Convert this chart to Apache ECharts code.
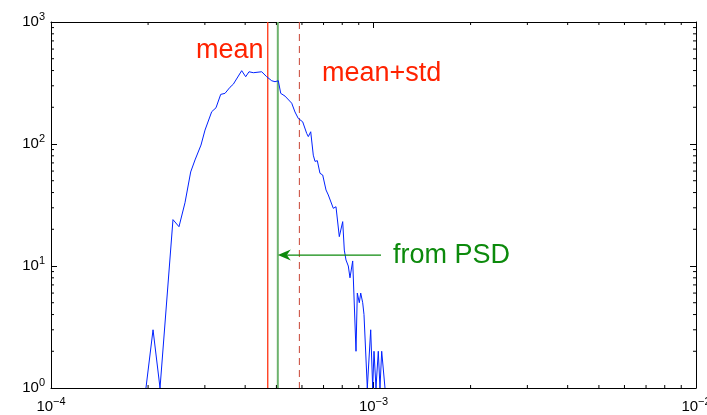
<!DOCTYPE html>
<html>
<head>
<meta charset="utf-8">
<script src="https://cdn.jsdelivr.net/npm/echarts@6/dist/echarts.min.js"></script>
<style>
html,body{margin:0;padding:0;background:#fff;}
#chart{width:707px;height:415px;}
</style>
</head>
<body>
<div id="chart"></div>
<script>
// Histogram bin positions
const xVals = [1.970e-4, 2.072e-4, 2.178e-4, 2.389e-4, 2.494e-4, 2.603e-4, 2.711e-4, 2.796e-4, 2.918e-4, 3.003e-4,
  3.150e-4, 3.248e-4, 3.359e-4, 3.463e-4, 3.590e-4, 3.675e-4, 3.720e-4, 3.902e-4, 4.015e-4, 4.111e-4,
  4.241e-4, 4.501e-4, 4.665e-4, 4.834e-4, 4.950e-4, 5.068e-4, 5.156e-4, 5.316e-4, 5.577e-4, 5.709e-4,
  5.845e-4, 6.032e-4, 6.207e-4, 6.278e-4, 6.387e-4, 6.506e-4, 6.586e-4, 6.695e-4, 6.825e-4, 6.958e-4,
  7.124e-4, 7.242e-4, 7.330e-4, 7.505e-4, 7.651e-4, 7.834e-4, 7.912e-4, 8.026e-4, 8.118e-4, 8.217e-4,
  8.353e-4, 8.455e-4, 8.558e-4, 8.620e-4, 8.826e-4, 8.908e-4, 9.036e-4, 9.127e-4, 9.258e-4, 9.344e-4,
  9.478e-4, 9.567e-4, 9.802e-4, 9.943e-4, 10.036e-4, 10.180e-4, 10.348e-4, 10.475e-4, 10.603e-4, 10.724e-4,
  10.855e-4];
// Counts per bin
const counts = [1, 3, 1, 24, 21, 33, 59, 74, 98, 130,
  184, 198, 255, 260, 292, 309, 316, 399, 356, 391,
  384, 391, 356, 330, 324, 330, 260, 247, 216, 183,
  162, 152, 122, 115, 126, 81, 72, 73, 57.5, 55.7,
  42, 38.2, 39.4, 29.7, 30.6, 17.4, 16.9, 23.1, 13.5, 11.2,
  10, 8, 8, 11, 2, 6, 5, 6, 5, 4,
  4, 1, 3, 1, 2, 1, 2, 1, 2, 2,
  1];
const meanX = 4.70e-4;
const psdX = 5.05e-4;
const meanStdX = 5.89e-4;
const arrowStartX = 1.055e-3;
const arrowY = 12.3;
const xMinorTicks = [2e-4,3e-4,4e-4,5e-4,6e-4,7e-4,8e-4,9e-4,2e-3,3e-3,4e-3,5e-3,6e-3,7e-3,8e-3,9e-3];
const yMinorTicks = [2,3,4,5,6,7,8,9,20,30,40,50,60,70,80,90,200,300,400,500,600,700,800,900];

const FONT = '"Liberation Sans", Arial, Helvetica, sans-serif';
const labelRich = {
  b: {fontSize: 15, fontFamily: FONT, color: '#000'},
  s: {fontSize: 11, fontFamily: FONT, color: '#000', padding: [0, 0, 11, 0]}
};
function powFmt(v) {
  const e = Math.round(Math.log10(v));
  return '{b|10}{s|' + (e < 0 ? '\u2212' + (-e) : e) + '}';
}
const tickStyle = {color: '#000', width: 1};
const GREEN = '#0c8a0c';

const chart = echarts.init(document.getElementById('chart'), null, {renderer: 'canvas'});

function minorTickSeries(vals, isX) {
  return {
    type: 'custom', silent: true, z: 5,
    data: vals.map(v => [v]),
    renderItem: function (params, api) {
      const v = api.value(0);
      const L = 3;
      let a, b;
      if (isX) {
        a = api.coord([v, 1]); b = api.coord([v, 1000]);
        return {type: 'group', children: [
          {type: 'line', shape: {x1: a[0], y1: a[1], x2: a[0], y2: a[1] - L}, style: {stroke: '#000', lineWidth: 1}},
          {type: 'line', shape: {x1: b[0], y1: b[1], x2: b[0], y2: b[1] + L}, style: {stroke: '#000', lineWidth: 1}}
        ]};
      }
      a = api.coord([1e-4, v]); b = api.coord([1e-2, v]);
      return {type: 'group', children: [
        {type: 'line', shape: {x1: a[0], y1: a[1], x2: a[0] + L, y2: a[1]}, style: {stroke: '#000', lineWidth: 1}},
        {type: 'line', shape: {x1: b[0], y1: b[1], x2: b[0] - L, y2: b[1]}, style: {stroke: '#000', lineWidth: 1}}
      ]};
    }
  };
}

// vertical reference lines: [x, colour, width, dashed]
const vLines = [
  [meanX, '#ff3311', 1.3, 0],
  [psdX, '#6db36d', 2, 0],
  [meanStdX, '#c84434', 1, 1]
];

const option = {
  animation: false,
  backgroundColor: '#fff',
  grid: {left: 51, right: 11, top: 22, bottom: 27, containLabel: false, outerBoundsMode: 'none'},
  xAxis: [
    {type: 'log', logBase: 10, min: 1e-4, max: 1e-2, position: 'bottom', splitNumber: 2,
     axisLine: {show: true, lineStyle: {color: '#000', width: 1}},
     axisTick: {show: true, inside: true, length: 6, lineStyle: tickStyle},
     axisLabel: {show: true, formatter: powFmt, rich: labelRich, margin: 8, showMinLabel: true, showMaxLabel: true, hideOverlap: false},
     splitLine: {show: false}},
    {type: 'log', logBase: 10, min: 1e-4, max: 1e-2, position: 'top', splitNumber: 2,
     axisLine: {show: true, lineStyle: {color: '#000', width: 1}},
     axisTick: {show: true, inside: true, length: 6, lineStyle: tickStyle},
     axisLabel: {show: false}, splitLine: {show: false}}
  ],
  yAxis: [
    {type: 'log', logBase: 10, min: 1, max: 1000, position: 'left', splitNumber: 3,
     axisLine: {show: true, lineStyle: {color: '#000', width: 1}},
     axisTick: {show: true, inside: true, length: 6, lineStyle: tickStyle},
     axisLabel: {show: true, formatter: powFmt, rich: labelRich, margin: 6},
     splitLine: {show: false}},
    {type: 'log', logBase: 10, min: 1, max: 1000, position: 'right', splitNumber: 3,
     axisLine: {show: true, lineStyle: {color: '#000', width: 1}},
     axisTick: {show: true, inside: true, length: 6, lineStyle: tickStyle},
     axisLabel: {show: false}, splitLine: {show: false}}
  ],
  series: [
    {
      type: 'custom', silent: true, z: 2,
      data: vLines.map((d, i) => [d[0], i]),
      renderItem: function (params, api) {
        const d = vLines[api.value(1)];
        const top = api.coord([d[0], 1000]);
        const bot = api.coord([d[0], 1]);
        return {type: 'line', shape: {x1: top[0], y1: top[1], x2: bot[0], y2: bot[1]},
          style: {stroke: d[1], lineWidth: d[2], lineDash: d[3] ? [7, 5] : null}};
      }
    },
    {
      type: 'line',
      data: xVals.map((x, i) => [x, counts[i]]),
      showSymbol: false, symbol: 'none',
      lineStyle: {color: '#0022ff', width: 1},
      z: 3
    },
    {
      type: 'custom', silent: true, z: 4,
      data: [[arrowStartX, arrowY, psdX]],
      renderItem: function (params, api) {
        const s = api.coord([api.value(0), api.value(1)]);
        const e = api.coord([api.value(2), api.value(1)]);
        const hl = 13, hw = 5.5, notch = 9;
        return {type: 'group', children: [
          {type: 'line', shape: {x1: s[0], y1: s[1], x2: e[0] + notch, y2: e[1]}, style: {stroke: GREEN, lineWidth: 1.3}},
          {type: 'polygon', shape: {points: [[e[0], e[1]], [e[0] + hl, e[1] - hw], [e[0] + notch, e[1]], [e[0] + hl, e[1] + hw]]},
           style: {fill: GREEN}}
        ]};
      }
    },
    minorTickSeries(xMinorTicks, true),
    minorTickSeries(yMinorTicks, false)
  ],
  graphic: [
    {type: 'text', left: 196, top: 37, style: {text: 'mean', font: '27px ' + FONT, fill: '#ff2200'}},
    {type: 'text', left: 322, top: 60, style: {text: 'mean+std', font: '27px ' + FONT, fill: '#ff2200'}},
    {type: 'text', left: 393, top: 242, style: {text: 'from PSD', font: '27px ' + FONT, fill: GREEN}}
  ]
};
chart.setOption(option);
</script>
</body>
</html>
